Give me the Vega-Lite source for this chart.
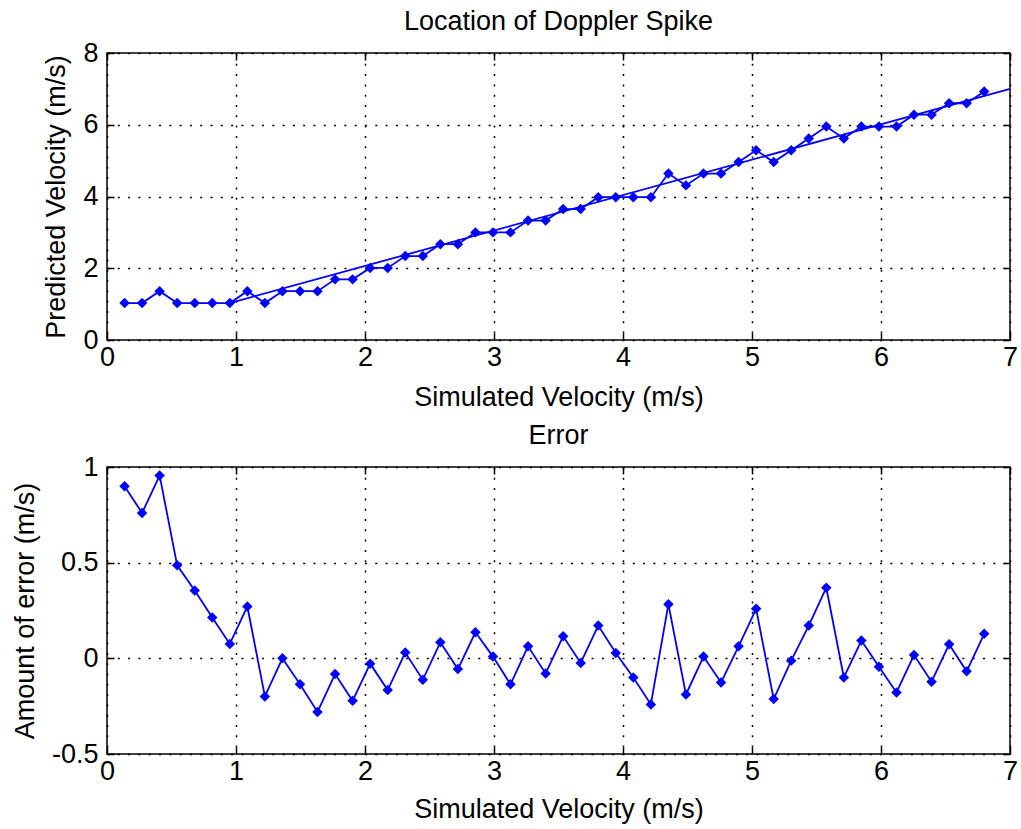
{
  "$schema": "https://vega.github.io/schema/vega-lite/v6.json",
  "padding": {"left": 10, "top": 7, "right": 5, "bottom": 2},
  "background": "white",
  "config": {
    "font": "Liberation Sans",
    "view": {"stroke": "black", "strokeWidth": 1.5},
    "axis": {
      "labelFont": "Liberation Sans", "titleFont": "Liberation Sans",
      "labelFontSize": 27, "titleFontSize": 27, "titleFontWeight": "normal",
      "labelColor": "black", "titleColor": "black",
      "domain": false, "tickColor": "black", "tickSize": -7, "tickWidth": 1.5,
      "gridColor": "black", "gridDash": [2, 8.3], "gridWidth": 1.5, "gridOpacity": 1,
      "labelPadding": 16, "titlePadding": 12, "labelFlush": false, "labelOverlap": false
    },
    "title": {"font": "Liberation Sans", "fontSize": 27, "fontWeight": "normal", "color": "black"}
  },
  "datasets": {
    "d": [
      {"x": 0.136, "pred": 1.03, "err": 0.9},
      {"x": 0.272, "pred": 1.03, "err": 0.76},
      {"x": 0.408, "pred": 1.36, "err": 0.955},
      {"x": 0.544, "pred": 1.03, "err": 0.486},
      {"x": 0.68, "pred": 1.03, "err": 0.355},
      {"x": 0.816, "pred": 1.03, "err": 0.213},
      {"x": 0.952, "pred": 1.03, "err": 0.075},
      {"x": 1.088, "pred": 1.36, "err": 0.271},
      {"x": 1.224, "pred": 1.03, "err": -0.199},
      {"x": 1.36, "pred": 1.36, "err": 0.0},
      {"x": 1.496, "pred": 1.36, "err": -0.136},
      {"x": 1.632, "pred": 1.36, "err": -0.28},
      {"x": 1.768, "pred": 1.69, "err": -0.082},
      {"x": 1.904, "pred": 1.69, "err": -0.222},
      {"x": 2.04, "pred": 2.01, "err": -0.028},
      {"x": 2.176, "pred": 2.01, "err": -0.166},
      {"x": 2.312, "pred": 2.34, "err": 0.03},
      {"x": 2.448, "pred": 2.34, "err": -0.112},
      {"x": 2.584, "pred": 2.67, "err": 0.084},
      {"x": 2.72, "pred": 2.67, "err": -0.056},
      {"x": 2.856, "pred": 3.0, "err": 0.136},
      {"x": 2.992, "pred": 3.0, "err": 0.009},
      {"x": 3.128, "pred": 3.0, "err": -0.136},
      {"x": 3.264, "pred": 3.33, "err": 0.063},
      {"x": 3.4, "pred": 3.33, "err": -0.079},
      {"x": 3.536, "pred": 3.65, "err": 0.115},
      {"x": 3.672, "pred": 3.65, "err": -0.024},
      {"x": 3.808, "pred": 3.98, "err": 0.171},
      {"x": 3.944, "pred": 3.98, "err": 0.028},
      {"x": 4.08, "pred": 3.98, "err": -0.1},
      {"x": 4.216, "pred": 3.98, "err": -0.241},
      {"x": 4.352, "pred": 4.64, "err": 0.283},
      {"x": 4.488, "pred": 4.31, "err": -0.189},
      {"x": 4.624, "pred": 4.64, "err": 0.009},
      {"x": 4.76, "pred": 4.64, "err": -0.126},
      {"x": 4.896, "pred": 4.96, "err": 0.063},
      {"x": 5.032, "pred": 5.29, "err": 0.259},
      {"x": 5.168, "pred": 4.96, "err": -0.213},
      {"x": 5.304, "pred": 5.29, "err": -0.012},
      {"x": 5.44, "pred": 5.62, "err": 0.171},
      {"x": 5.576, "pred": 5.95, "err": 0.369},
      {"x": 5.712, "pred": 5.62, "err": -0.1},
      {"x": 5.848, "pred": 5.95, "err": 0.093},
      {"x": 5.984, "pred": 5.95, "err": -0.044},
      {"x": 6.12, "pred": 5.95, "err": -0.178},
      {"x": 6.256, "pred": 6.28, "err": 0.017},
      {"x": 6.392, "pred": 6.28, "err": -0.122},
      {"x": 6.528, "pred": 6.6, "err": 0.073},
      {"x": 6.664, "pred": 6.6, "err": -0.068},
      {"x": 6.8, "pred": 6.93, "err": 0.128}
    ],
    "fit": [
      {"fx": 0.952, "fy": 1.03},
      {"fx": 7.0, "fy": 7.0}
    ]
  },
  "spacing": 10,
  "vconcat": [
    {
      "width": 903, "height": 287,
      "title": {"text": "Location of Doppler Spike", "frame": "group", "offset": 3},
      "layer": [
        {
          "data": {"name": "d"},
          "mark": {"type": "line", "color": "#0000ff", "strokeWidth": 1.8},
          "encoding": {
            "x": {"field": "x", "type": "quantitative", "scale": {"domain": [0, 7], "nice": false},
                  "axis": {"values": [0, 1, 2, 3, 4, 5, 6, 7], "title": "Simulated Velocity (m/s)", "grid": true, "labelPadding": 11, "titlePadding": 14}},
            "y": {"field": "pred", "type": "quantitative", "scale": {"domain": [0, 8], "nice": false},
                  "axis": {"values": [0, 2, 4, 6, 8], "title": "Predicted Velocity (m/s)", "grid": true}}
          }
        },
        {
          "data": {"name": "fit"},
          "mark": {"type": "line", "color": "#0000ff", "strokeWidth": 1.8},
          "encoding": {
            "x": {"field": "fx", "type": "quantitative", "scale": {"domain": [0, 7], "nice": false}, "axis": null},
            "y": {"field": "fy", "type": "quantitative", "scale": {"domain": [0, 8], "nice": false}, "axis": null}
          }
        },
        {
          "data": {"name": "d"},
          "mark": {"type": "point", "shape": "diamond", "filled": true, "size": 110, "color": "#0000ff", "opacity": 1},
          "encoding": {
            "x": {"field": "x", "type": "quantitative", "scale": {"domain": [0, 7], "nice": false},
                  "axis": {"orient": "top", "values": [0, 1, 2, 3, 4, 5, 6, 7], "labels": false, "title": null, "grid": false}},
            "y": {"field": "pred", "type": "quantitative", "scale": {"domain": [0, 8], "nice": false},
                  "axis": {"orient": "right", "values": [0, 2, 4, 6, 8], "labels": false, "title": null, "grid": false}}
          }
        }
      ],
      "resolve": {"axis": {"x": "independent", "y": "independent"}}
    },
    {
      "width": 903, "height": 287,
      "title": {"text": "Error", "frame": "group", "offset": 3},
      "layer": [
        {
          "data": {"name": "d"},
          "mark": {"type": "line", "color": "#0000ff", "strokeWidth": 1.8},
          "encoding": {
            "x": {"field": "x", "type": "quantitative", "scale": {"domain": [0, 7], "nice": false},
                  "axis": {"values": [0, 1, 2, 3, 4, 5, 6, 7], "title": "Simulated Velocity (m/s)", "grid": true, "labelPadding": 11, "titlePadding": 12}},
            "y": {"field": "err", "type": "quantitative", "scale": {"domain": [-0.5, 1], "nice": false},
                  "axis": {"values": [-0.5, 0, 0.5, 1], "title": "Amount of error (m/s)", "grid": true, "labelExpr": "'' + datum.value"}}
          }
        },
        {
          "data": {"name": "d"},
          "mark": {"type": "point", "shape": "diamond", "filled": true, "size": 110, "color": "#0000ff", "opacity": 1},
          "encoding": {
            "x": {"field": "x", "type": "quantitative", "scale": {"domain": [0, 7], "nice": false},
                  "axis": {"orient": "top", "values": [0, 1, 2, 3, 4, 5, 6, 7], "labels": false, "title": null, "grid": false}},
            "y": {"field": "err", "type": "quantitative", "scale": {"domain": [-0.5, 1], "nice": false},
                  "axis": {"orient": "right", "values": [-0.5, 0, 0.5, 1], "labels": false, "title": null, "grid": false}}
          }
        }
      ],
      "resolve": {"axis": {"x": "independent", "y": "independent"}}
    }
  ]
}
